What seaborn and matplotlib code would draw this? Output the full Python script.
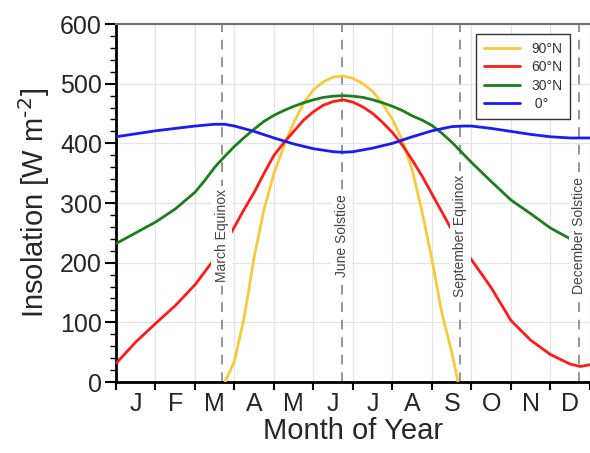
import numpy as np
import pandas as pd
import matplotlib
matplotlib.use("Agg")
import matplotlib.pyplot as plt
from matplotlib.ticker import MultipleLocator
import seaborn as sns

# month of year (0 = 1 Jan, 12 = 31 Dec), insolation in W m-2
months_eq = [0, 0.5, 1, 1.5, 2, 2.5, 2.75, 3, 3.5, 4, 4.5, 5, 5.5, 5.75,
             6, 6.5, 7, 7.5, 8, 8.5, 8.8, 9, 9.5, 10, 10.5, 11, 11.5, 12]
insol_0 = [411, 416, 421, 425, 429, 432, 432, 429, 420, 409, 399, 391, 386,
           385, 386, 392, 400, 411, 421, 428, 429, 429, 425, 420, 415, 411,
           409, 409]

months_30 = [0, 0.5, 1, 1.5, 2, 2.25, 2.5, 2.75, 3, 3.25, 3.5, 3.75, 4,
             4.25, 4.5, 4.75, 5, 5.25, 5.5, 5.75, 6, 6.25, 6.5, 6.75, 7,
             7.25, 7.5, 7.75, 8, 8.25, 8.5, 8.75, 9, 9.5, 10, 10.5, 11,
             11.5, 12]
insol_30 = [232, 250, 268, 290, 318, 338, 360, 378, 395, 410, 424, 437, 447,
            455, 462, 468, 473, 477, 479, 480, 479, 477, 473, 468, 462, 455,
            446, 439, 430, 417, 402, 385, 368, 336, 305, 282, 258, 240, 231]

months_60 = [0, 0.5, 1, 1.5, 2, 2.5, 2.75, 3, 3.25, 3.5, 3.75, 4, 4.25,
             4.5, 4.75, 5, 5.25, 5.5, 5.75, 6, 6.25, 6.5, 6.75, 7, 7.25,
             7.5, 7.75, 8, 8.25, 8.5, 9, 9.5, 10, 10.5, 11, 11.5, 11.75, 12]
insol_60 = [31, 67, 98, 128, 163, 207, 232, 260, 290, 318, 350, 380, 401,
            420, 439, 453, 464, 470, 473, 469, 461, 450, 435, 418, 397, 372,
            345, 315, 285, 255, 205, 158, 103, 70, 46, 30, 26, 29]

months_90 = [2.76, 3.0, 3.25, 3.5, 3.75, 4.0, 4.25, 4.5, 4.75, 5.0, 5.25,
             5.5, 5.72, 6.0, 6.25, 6.5, 6.75, 7.0, 7.25, 7.5, 7.75, 8.0,
             8.25, 8.5, 8.66]
insol_90 = [0, 35, 110, 210, 290, 350, 395, 435, 467, 490, 503, 511, 513,
            509, 500, 487, 466, 440, 405, 355, 285, 205, 115, 50, 0]

series_names = ["90°N", "60°N", "30°N", " 0°"]
series_colors = ["#F9C93A", "#FF1A1A", "#1A7F1A", "#1A1AF5"]

month_letters = ["J", "F", "M", "A", "M", "J", "J", "A", "S", "O", "N", "D"]
events = ["March Equinox", "June Solstice", "September Equinox",
          "December Solstice"]
event_months = [2.68, 5.72, 8.71, 11.73]


def build_frame():
    parts = []
    for name, m, v in zip(series_names,
                          [months_90, months_60, months_30, months_eq],
                          [insol_90, insol_60, insol_30, insol_0]):
        parts.append(pd.DataFrame({"month": m, "insolation": v,
                                   "latitude": name}))
    return pd.concat(parts, ignore_index=True)


def main():
    sns.set_theme(style="white")
    plt.rcParams["font.family"] = ["Liberation Sans", "DejaVu Sans"]

    fig = plt.figure(figsize=(5.9, 4.53), dpi=100)
    ax = fig.add_axes([0.1966, 0.1567, 0.8034, 0.7903])

    df = build_frame()
    for m in event_months:
        ax.axvline(m, color="#959595", lw=1.4, ls=(0, (5, 4)), zorder=2)

    sns.lineplot(data=df, x="month", y="insolation", hue="latitude",
                 hue_order=series_names,
                 palette=dict(zip(series_names, series_colors)),
                 estimator=None, sort=True, lw=2, ax=ax, zorder=3)

    for name, m in zip(events, event_months):
        ax.text(m, 245, name, rotation=90, ha="center", va="center",
                fontsize=10, color="#444444", zorder=5,
                bbox=dict(facecolor="white", edgecolor="none", pad=2.5))

    ax.set_xlim(0, 12)
    ax.set_ylim(0, 600)
    ax.xaxis.set_major_locator(MultipleLocator(1))
    ax.xaxis.set_major_formatter(plt.NullFormatter())
    ax.set_xticks(np.arange(12) + 0.5, minor=True)
    ax.set_xticklabels(month_letters, minor=True)
    ax.yaxis.set_major_locator(MultipleLocator(100))
    ax.yaxis.set_minor_locator(MultipleLocator(20))

    ax.grid(True, which="major", color="#e3e3e3", lw=0.9)
    ax.tick_params(axis="x", which="major", direction="out", length=6,
                   width=1.5, color="black", bottom=True)
    ax.tick_params(axis="x", which="minor", length=0, pad=7, labelsize=18)
    ax.tick_params(axis="y", which="major", direction="out", length=8,
                   width=1.5, color="black", left=True, labelsize=18, pad=2)
    ax.tick_params(axis="y", which="minor", direction="out", length=4,
                   width=1, color="black", left=True)

    for side in ["left", "bottom"]:
        ax.spines[side].set_color("black")
        ax.spines[side].set_linewidth(2)
    ax.spines["top"].set_color("#707070")
    ax.spines["top"].set_linewidth(1.5)
    ax.spines["right"].set_visible(False)

    ax.set_xlabel("Month of Year", fontsize=21, labelpad=1)
    ax.set_ylabel(r"Insolation [W m$^{\text{-2}}$]", fontsize=21, labelpad=6)

    leg = ax.legend(loc="upper right", bbox_to_anchor=(0.958, 0.972),
                    borderaxespad=0, fontsize=10, frameon=True,
                    fancybox=False, framealpha=1, handlelength=2.6,
                    labelspacing=0.32, borderpad=0.55)
    leg.get_frame().set_edgecolor("#333333")
    leg.get_frame().set_linewidth(1)
    for t in leg.get_texts():
        t.set_color("#333333")

    fig.savefig("out.png", dpi=100)


if __name__ == "__main__":
    main()
